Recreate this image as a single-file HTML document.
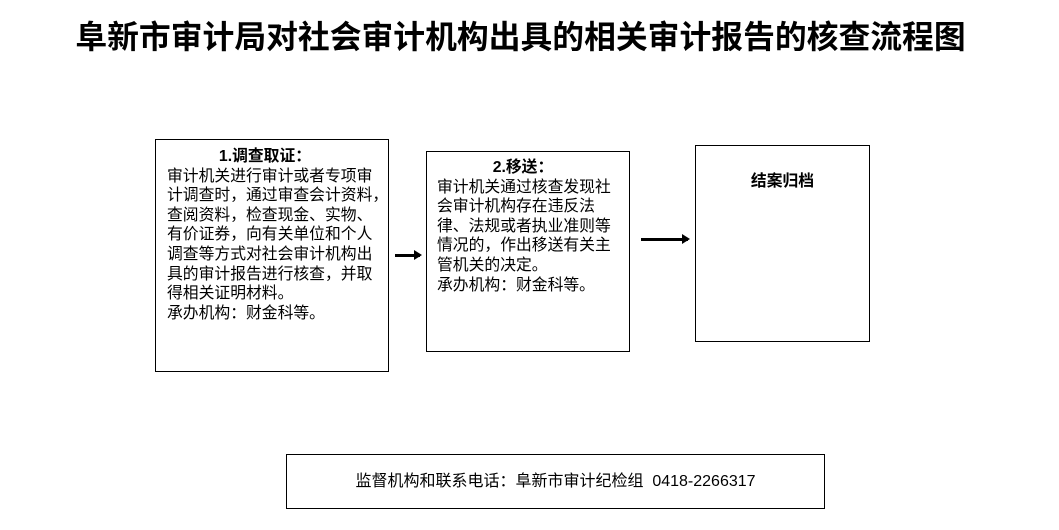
<!DOCTYPE html>
<html><head><meta charset="utf-8"><style>
body{margin:0;width:1059px;height:530px;background:#fff;position:relative;overflow:hidden;font-family:"Liberation Sans","Noto Sans CJK SC",sans-serif;color:#000}
.t{position:absolute;left:-9px;width:1059px;top:17px;text-align:center;font-size:31.8px;line-height:40px;font-weight:bold}
.b{position:absolute;border:1px solid #000;box-sizing:border-box;font-size:15.8px;line-height:19.6px;white-space:nowrap}
.h{font-weight:bold;text-align:center}
.a{position:absolute;height:3px;background:#000}
.a:after{content:"";position:absolute;right:-2px;top:-4px;border-left:8px solid #000;border-top:5.5px solid transparent;border-bottom:5.5px solid transparent}
</style></head><body>
<div class="t">阜新市审计局对社会审计机构出具的相关审计报告的核查流程图</div>
<div class="b" style="left:155px;top:139px;width:234px;height:233px;padding:7px 0 0 11px">
<div class="h" style="padding-right:25px">1.调查取证：</div>
审计机关进行审计或者专项审<br>计调查时，通过审查会计资料，<br>查阅资料，检查现金、实物、<br>有价证券，向有关单位和个人<br>调查等方式对社会审计机构出<br>具的审计报告进行核查，并取<br>得相关证明材料。<br>承办机构：财金科等。</div>
<div class="a" style="left:395px;top:254px;width:25px"></div>
<div class="b" style="left:426px;top:151px;width:204px;height:201px;padding:6px 0 0 10px">
<div class="h" style="padding-right:20px">2.移送：</div>
审计机关通过核查发现社<br>会审计机构存在违反法<br>律、法规或者执业准则等<br>情况的，作出移送有关主<br>管机关的决定。<br>承办机构：财金科等。</div>
<div class="a" style="left:641px;top:238px;width:47px"></div>
<div class="b" style="left:695px;top:145px;width:175px;height:197px;padding-top:26px">
<div class="h">结案归档</div></div>
<div class="b" style="left:286px;top:454px;width:539px;height:55px;text-align:center;padding-top:17px;font-size:16px">监督机构和联系电话：阜新市审计纪检组&nbsp; 0418-2266317</div>
</body></html>
